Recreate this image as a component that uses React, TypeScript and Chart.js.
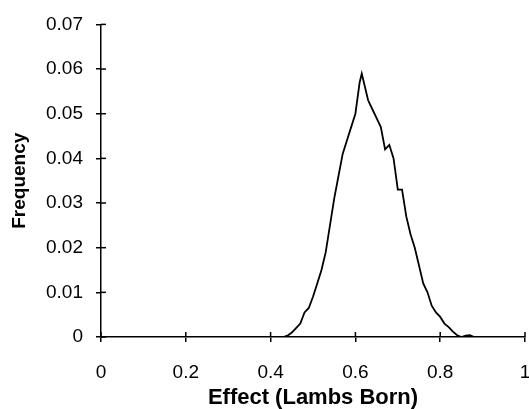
import React, { useEffect, useRef } from "react";
import { Chart, registerables } from "chart.js";

Chart.register(...registerables);

// Effect (Lambs Born) values along the curve
const effectValues: number[] = [
  0.41, 0.42, 0.43, 0.44, 0.45, 0.46, 0.47, 0.48, 0.49, 0.5,
  0.51, 0.52, 0.53, 0.54, 0.55, 0.56, 0.57, 0.58, 0.59, 0.6,
  0.61, 0.615, 0.62, 0.63, 0.64, 0.65, 0.66, 0.67, 0.68, 0.69,
  0.7, 0.71, 0.72, 0.73, 0.74, 0.75, 0.76, 0.77, 0.78, 0.79,
  0.8, 0.81, 0.82, 0.83, 0.84, 0.85, 0.86, 0.87, 0.88, 0.89,
];
// Frequency at each effect value
const frequencyValues: number[] = [
  0, 0, 0, 0.0003, 0.001, 0.002, 0.003, 0.0055, 0.0065, 0.009,
  0.012, 0.015, 0.019, 0.025, 0.031, 0.036, 0.041, 0.044, 0.047, 0.05,
  0.057, 0.059, 0.057, 0.053, 0.051, 0.049, 0.047, 0.042, 0.043, 0.04,
  0.033, 0.033, 0.027, 0.023, 0.02, 0.016, 0.012, 0.01, 0.007, 0.0055,
  0.0045, 0.003, 0.0022, 0.0012, 0.0004, 0, 0.0003, 0.0004, 0, 0,
];

const xTitle = "Effect (Lambs Born)";
const yTitle = "Frequency";
const xMin = 0, xMax = 1, xStep = 0.2;
const yMin = 0, yMax = 0.07, yStep = 0.01;

const FONT = "'Liberation Sans', Arial, sans-serif";

const fmt = (v: any) => String(Number(Number(v).toFixed(3)));

const innerTicks = {
  id: "innerTicks",
  afterDraw(chart: any) {
    const { ctx, chartArea, scales } = chart;
    ctx.save();
    ctx.strokeStyle = "#000";
    ctx.lineWidth = 1.5;
    const len = 5;
    scales.x.ticks.forEach((t: any) => {
      const px = scales.x.getPixelForValue(t.value);
      ctx.beginPath();
      ctx.moveTo(px, chartArea.bottom);
      ctx.lineTo(px, chartArea.bottom - len);
      ctx.stroke();
    });
    scales.y.ticks.forEach((t: any) => {
      const py = scales.y.getPixelForValue(t.value);
      ctx.beginPath();
      ctx.moveTo(chartArea.left, py);
      ctx.lineTo(chartArea.left + len, py);
      ctx.stroke();
    });
    ctx.restore();
  },
};

export default function App() {
  const canvasRef = useRef<HTMLCanvasElement | null>(null);

  useEffect(() => {
    if (!canvasRef.current) return;
    const data = effectValues.map((x, i) => ({ x, y: frequencyValues[i] }));
    const chart = new Chart(canvasRef.current, {
      type: "line",
      data: {
        datasets: [
          {
            data,
            borderColor: "#000",
            borderWidth: 1.8,
            pointRadius: 0,
            tension: 0,
            fill: false,
          },
        ],
      },
      options: {
        responsive: false,
        animation: false,
        devicePixelRatio: 1,
        layout: { padding: { top: 22, right: 4, left: 0, bottom: 0 } },
        plugins: { legend: { display: false }, tooltip: { enabled: false } },
        scales: {
          x: {
            type: "linear",
            min: xMin,
            max: xMax,
            ticks: {
              stepSize: xStep,
              color: "#000",
              padding: 19,
              maxRotation: 0,
              font: { family: FONT, size: 19 },
              callback: (v: any) => fmt(v),
            },
            grid: {
              drawOnChartArea: false,
              drawTicks: true,
              tickLength: 5,
              color: "#000",
              lineWidth: 1.5,
            },
            border: { display: true, color: "#000", width: 1.5 },
            title: {
              display: true,
              text: xTitle,
              color: "#000",
              padding: { top: 0, bottom: 0 },
              font: { family: FONT, size: 22, weight: "bold", lineHeight: 1 },
            },
            afterFit: (scale: any) => {
              scale.height = 72;
              scale.paddingRight = 4;
              scale.paddingLeft = 0;
            },
          },
          y: {
            type: "linear",
            min: yMin,
            max: yMax,
            ticks: {
              stepSize: yStep,
              color: "#000",
              padding: 13,
              font: { family: FONT, size: 19 },
              callback: (v: any) => fmt(v),
            },
            grid: {
              drawOnChartArea: false,
              drawTicks: true,
              tickLength: 5,
              color: "#000",
              lineWidth: 1.5,
            },
            border: { display: true, color: "#000", width: 1.5 },
            title: {
              display: true,
              text: yTitle,
              color: "#000",
              padding: { top: 8, bottom: 0 },
              font: { family: FONT, size: 19, weight: "bold", lineHeight: 1.2 },
            },
            afterFit: (scale: any) => {
              scale.width = 101;
            },
          },
        },
      },
      plugins: [innerTicks],
    });
    return () => chart.destroy();
  }, []);

  return (
    <div style={{ position: "absolute", left: 0, top: 0, width: 529, height: 409, background: "#fff" }}>
      <canvas ref={canvasRef} width={529} height={409} />
    </div>
  );
}
